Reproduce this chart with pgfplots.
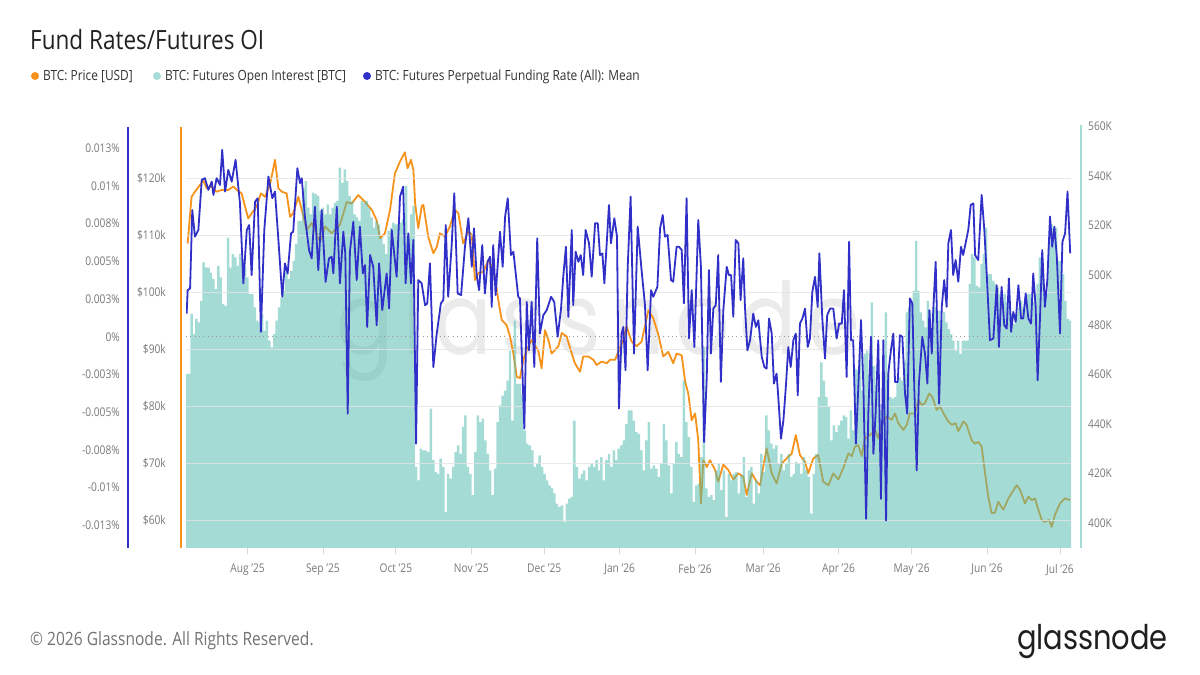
\documentclass[border=0pt]{standalone}
\usepackage{fontspec}
\setmainfont[FakeStretch=0.85]{Open Sans}
\newfontfamily\logofont[FakeStretch=0.85]{Poppins}
\newfontfamily\markfont[FakeStretch=0.85, LetterSpace=10]{Poppins}
\usepackage{pgfplots}
\usepackage{pgfplotstable}
\pgfplotsset{compat=1.18}

\definecolor{btcorange}{HTML}{F7931A}
\definecolor{oiteal}{HTML}{4BBBAD}
\definecolor{frblue}{HTML}{3030C8}
\definecolor{ticktext}{HTML}{7A7A7A}
\definecolor{titletext}{HTML}{222222}
\definecolor{legendtext}{HTML}{333333}
\definecolor{gridline}{HTML}{E4E4E4}

% x = days since 1 Aug 2025
\pgfplotstableread{
day price
-24.6 108500
-23.0 116700
-21.6 117600
-19.5 118800
-18.2 119600
-16.8 118200
-14.7 118500
-12.7 117600
-10.6 117900
-7.9 117900
-5.8 118500
-4.4 117900
-2.4 117300
-1.0 115000
0.3 112900
1.7 113800
3.8 115000
5.5 117300
7.2 116700
9.2 118800
10.2 120800
11.3 123200
12.7 118200
14.1 117600
16.1 117300
17.5 113200
18.8 113800
20.9 116700
22.3 114400
24.3 110900
26.4 112100
28.4 110300
29.8 108800
31.9 111500
34.6 110300
38.0 111800
40.8 115800
42.8 115500
45.5 117000
48.3 115800
51.1 114400
53.1 112600
54.5 109400
56.5 110300
58.6 114400
60.6 120800
62.7 122900
64.7 124500
65.8 121700
67.2 123200
68.2 121400
68.9 115600
70.2 111200
71.6 115000
72.3 115300
74.3 109700
76.4 106800
77.8 107900
79.1 110300
81.2 109700
83.2 111500
85.3 114400
86.7 113800
88.7 108500
90.8 110600
92.2 110000
93.5 102100
94.9 103300
96.9 103500
99.0 105600
100.4 104500
101.7 102700
103.1 98600
104.5 95100
106.5 94200
107.9 92200
109.3 89200
110.7 85100
112.0 84900
113.4 88100
114.8 89800
116.8 91600
118.2 90500
119.5 89800
120.9 86600
122.3 93300
123.7 91600
125.0 89200
126.4 89800
127.8 90500
129.2 92800
131.2 92200
133.3 89200
134.6 87500
136.7 86000
138.0 88700
140.1 88700
142.2 88100
143.5 87200
145.6 87800
147.7 87500
149.0 88100
151.1 88100
152.4 89500
154.5 91600
155.8 94000
157.9 91300
160.0 90500
162.0 91300
163.4 94000
164.8 96800
166.8 95400
168.9 92500
170.9 88700
173.0 89500
175.0 87500
176.4 89200
178.5 88900
179.9 84300
181.2 82200
182.6 77500
184.0 78700
185.3 74000
186.4 62900
187.4 70500
188.8 69300
190.1 70500
192.2 68800
193.5 66700
195.6 69700
197.6 68800
199.7 67100
201.8 68200
203.8 67600
205.2 64400
207.3 68200
209.3 66700
210.7 66100
212.0 69300
213.4 72600
215.5 68200
217.5 66400
219.6 69900
222.3 71100
223.7 71600
225.4 74900
227.1 71400
229.2 70200
230.5 68200
232.6 70800
234.6 71400
236.7 66700
238.8 66100
240.8 68200
242.9 67100
244.9 69100
247.0 71700
248.4 71200
249.7 72900
251.1 73100
252.5 71200
253.8 74300
255.9 74900
258.0 75800
259.3 74300
260.7 77000
262.8 78100
264.8 77600
266.2 78700
267.5 77000
269.6 75800
271.0 76700
272.3 78700
274.4 78700
275.8 81100
277.1 80200
278.5 80500
280.2 82200
281.5 81600
283.3 79300
284.7 79900
286.1 78700
288.1 77300
289.5 76700
291.1 77000
292.2 75600
294.3 77300
295.6 76700
297.7 74000
299.1 73400
300.4 73700
301.8 72900
303.2 68200
304.5 64100
305.9 61200
307.3 61300
308.6 63200
310.7 61800
312.8 63800
314.1 64700
316.2 66100
317.6 65300
319.6 62900
321.0 64100
322.4 63500
323.7 63800
325.1 61800
326.5 60000
327.8 59700
329.5 60000
330.6 58800
331.9 60900
334.0 62900
336.1 63800
338.2 63500
}\pricedata

\pgfplotstableread{
day oi
-25.28 460200
-24 460200
-23 484400
-22 476300
-21 482400
-20 481000
-19 489700
-18 505200
-17 503200
-16 503100
-15 501100
-14 498500
-13 494400
-12 503800
-11 499100
-10 488400
-9 487700
-8 515200
-7 503100
-6 508500
-5 507200
-4 503800
-3 508500
-2 505800
-1 503100
0 499100
1 492400
2 492400
3 487000
4 481700
5 481000
6 484400
7 477700
8 481700
9 473600
10 470900
11 476300
12 481700
13 487000
14 491100
15 493800
16 503100
17 498500
18 501800
19 505800
20 512600
21 521900
22 521900
23 535300
24 538000
25 527300
26 524600
27 533300
28 532700
29 532000
30 526000
31 527300
32 524600
33 528600
34 524600
35 527300
36 529300
37 530000
38 543400
39 537300
40 542700
41 538000
42 532000
43 530000
44 524600
45 523300
46 521900
47 530000
48 529300
49 530000
50 527300
51 523300
52 519200
53 521900
54 520500
55 515200
56 512600
57 508500
58 517900
59 519200
60 521200
61 520500
62 520500
63 521200
64 522600
65.2 536000
66.2 516600
67.2 524600
68.3 528000
69.3 422700
70.3 417300
71.3 430100
72.3 429400
73.3 429400
74.4 428700
75.4 446200
76.4 425400
77.4 420600
78.4 419900
79.4 426000
80.5 422700
81.5 404500
82.5 419900
83.5 418000
84.5 422700
85.5 428700
86.6 431400
87.6 428000
88.6 438800
89.6 443500
90.6 422700
91.6 419900
92.7 411300
93.7 428700
94.7 443500
95.7 440800
96.7 442200
97.7 433400
98.8 428000
99.8 421300
100.8 411300
101.8 422000
102.8 440800
103.8 447500
104.9 451500
105.9 453500
106.9 457500
107.9 469600
108.9 441400
109.9 481700
111.0 456200
112.0 456200
113.0 452200
114.0 437400
115.0 432100
116.0 431400
117.1 429400
118.1 422700
119.1 424000
120.1 427400
121.1 422700
122.1 419900
123.2 417300
124.2 415300
125.2 414000
126.2 412000
127.2 407900
128.2 406600
129.3 407200
130.3 400500
131.3 407900
132.3 409900
133.3 410600
134.3 441400
135.4 422700
136.4 418000
137.4 419900
138.4 421300
139.4 417300
140.4 422700
141.5 424000
142.5 422700
143.5 425400
144.5 421300
145.5 426700
146.5 417300
147.6 425400
148.6 428000
149.6 422700
150.6 429400
151.6 425400
152.6 430100
153.7 431400
154.7 433400
155.7 440100
156.8 445500
157.8 445500
158.8 441400
159.9 436700
160.9 436000
161.9 429400
163.0 421300
164.0 433400
165.0 440800
166.0 422000
167.1 423300
168.1 422000
169.1 418700
170.1 424000
171.2 440100
172.2 433400
173.2 423300
174.2 412000
175.3 424000
176.3 432800
177.3 428000
178.4 426700
179.4 457500
180.4 440800
181.4 434700
182.5 422700
183.5 408600
184.5 415300
185.5 416000
186.6 426700
187.6 470900
188.6 414000
189.7 410600
190.7 411300
191.7 409300
192.7 421300
193.8 424000
194.8 413300
195.8 421300
196.9 402500
197.9 419900
198.9 417300
199.9 419900
201.0 420600
202.0 412000
203.0 419300
204.0 426700
205.1 410600
206.1 421300
207.1 422700
208.2 407900
209.2 417300
210.2 412000
211.2 428000
212.3 420600
213.3 443500
214.3 437400
215.4 432100
216.4 430100
217.4 431400
218.4 424000
219.5 428000
220.5 421300
221.5 424000
222.5 428000
223.6 418700
224.6 419900
225.6 424700
226.7 424000
227.7 419900
228.7 426700
229.7 421300
230.8 418700
231.8 403900
232.8 419900
233.8 428000
234.9 450800
235.9 464900
236.9 457500
238.0 450800
239.0 446800
240.0 433400
241.0 439500
242.1 436700
243.1 439500
244.1 441400
245.2 443500
246.1 442800
247.1 434100
248.0 445500
249.0 437400
249.9 462200
250.9 461600
251.9 468300
252.8 453500
253.8 468300
254.7 469600
255.7 460200
256.6 489100
257.6 463500
258.6 455500
259.5 452200
260.5 445500
261.4 460200
262.4 485000
263.4 460200
264.3 450800
265.3 450200
266.2 450800
267.2 457500
268.2 458800
269.1 457500
270.1 465600
271.0 485000
272.0 487000
272.9 489700
273.9 493800
274.9 513900
275.8 493800
276.8 485000
277.7 481700
278.7 479000
279.7 489700
280.6 485700
281.6 477700
282.5 487000
283.5 481700
284.5 485700
285.4 481700
286.4 485000
287.3 481000
288.3 478300
289.3 476300
290.2 473600
291.2 469600
292.1 473600
293.1 468300
294.0 473600
295.0 473600
296.0 473600
296.9 496500
297.9 508500
298.8 507200
299.8 495800
300.8 495100
301.7 504500
302.7 508500
303.6 519200
304.6 500500
305.6 500500
306.5 497800
307.5 496500
308.4 495100
309.4 492400
310.4 489100
311.3 492400
312.3 489100
313.2 487000
314.2 484400
315.2 480400
316.1 484400
317.1 487000
318.0 489700
319.0 487000
319.9 491100
320.9 492400
321.9 492400
322.8 489100
323.8 492400
324.7 496500
325.7 507200
326.7 507200
327.6 491100
328.6 492400
329.5 512600
330.5 520600
331.5 519200
332.4 519200
333.4 505800
334.3 505800
335.3 500500
336.3 489700
337.2 482400
338.2 481700
338.53 481700
}\oidata

\pgfplotstableread{
day rate
-25.0 0.00154
-24.6 0.00309
-23.6 0.00320
-22.7 0.00841
-21.6 0.00664
-20.2 0.00708
-18.8 0.01041
-17.5 0.01052
-16.1 0.00974
-14.7 0.01029
-14.0 0.00941
-12.7 0.01052
-11.3 0.01007
-10.4 0.01240
-9.2 0.00963
-7.9 0.01107
-6.5 0.01029
-4.9 0.01174
-3.1 0.00886
-1.7 0.00354
-0.3 0.00708
0.7 0.00741
1.7 0.00409
3.1 0.00896
4.2 0.00919
5.5 0.00032
6.9 0.00708
8.6 0.01063
10.2 0.00919
11.3 0.00963
12.7 0.00642
14.3 0.00265
15.4 0.00487
16.5 0.00420
17.9 0.00686
18.8 0.00697
20.5 0.01118
21.6 0.01019
22.3 0.01052
23.6 0.00797
25.3 0.00575
26.4 0.00520
27.7 0.00863
29.1 0.00442
30.5 0.00841
32.1 0.00364
33.5 0.00520
34.6 0.00531
35.3 0.00420
36.7 0.00863
38.0 0.00354
39.4 0.00697
40.2 0.00553
41.2 -0.00511
42.1 0.00564
43.5 0.00763
44.9 0.00376
46.2 0.00730
47.4 0.00420
48.3 0.00475
49.2 0.00065
50.4 0.00542
51.7 0.00464
53.1 0.00076
54.1 0.00487
55.4 0.00176
57.2 0.00420
58.2 0.00187
59.3 0.00708
61.3 0.00398
62.7 0.00930
64.0 0.00996
65.0 0.00354
66.1 0.00686
67.2 0.00354
68.2 0.00642
69.3 -0.00710
70.2 0.00376
71.6 0.00354
73.0 0.00209
73.9 0.00220
75.0 0.00487
76.4 -0.00201
77.8 0.00021
79.5 0.00221
80.5 0.00243
81.5 0.00741
82.5 0.00265
83.9 0.00597
85.0 0.00952
86.4 0.00287
87.8 0.00276
89.4 0.00597
90.8 0.00786
92.2 0.00464
93.1 0.00719
94.2 0.00409
95.2 0.00309
96.5 0.00608
97.6 0.00287
98.7 0.00497
99.7 0.00531
100.4 0.00198
101.0 0.00608
102.0 0.00276
103.8 0.00697
104.9 0.00464
105.9 0.00797
107.0 0.00919
108.3 0.00542
109.3 0.00564
111.3 0.00265
112.0 0.00254
113.8 -0.00610
114.8 0.00231
115.7 -0.00090
116.8 0.00231
117.9 -0.00201
119.1 0.00653
120.2 0.00021
121.6 0.00143
123.0 0.00176
124.8 0.00265
126.1 0.00231
127.5 0.00000
128.9 0.00187
129.8 0.00398
130.9 0.00597
131.9 0.00132
133.3 0.00708
133.9 0.00209
134.9 0.00564
136.0 0.00497
137.0 0.00542
138.0 0.00409
139.0 0.00708
140.4 0.00620
141.5 0.00398
142.9 0.00753
144.0 0.00753
144.9 0.00542
145.9 0.00553
146.7 0.00354
148.6 0.00874
149.4 0.00620
150.8 0.00786
151.9 0.00664
152.7 -0.00477
153.8 0.00021
154.5 0.00065
155.4 -0.00223
156.3 0.00464
157.5 0.00930
158.9 -0.00112
160.4 0.00730
162.0 0.00442
163.4 0.00209
164.5 -0.00223
165.9 0.00309
166.8 0.00265
168.5 0.00331
169.6 0.00719
170.7 0.00808
171.6 0.00664
172.7 0.00675
174.1 0.00376
175.0 0.00365
176.4 0.00597
177.4 0.00597
178.5 0.00575
179.4 0.00221
180.5 0.00919
181.5 -0.00012
182.6 0.00309
183.7 -0.00068
185.3 0.00775
186.4 0.00464
187.7 -0.00699
188.8 -0.00267
189.7 0.00442
190.5 -0.00112
191.5 0.00187
192.5 0.00209
193.5 0.00542
194.6 -0.00300
195.6 0.00176
197.0 0.00464
197.9 0.00409
198.8 0.00409
199.7 0.00132
200.7 0.00642
201.8 0.00620
202.7 0.00243
203.8 0.00520
204.5 0.00198
205.5 -0.00090
206.6 -0.00023
207.9 0.00154
209.0 0.00065
210.0 0.00109
211.4 -0.00134
212.5 -0.00201
213.4 -0.00212
214.4 0.00120
215.5 0.00021
216.4 -0.00311
217.5 -0.00245
218.2 -0.00400
219.3 -0.00677
220.3 -0.00555
221.4 -0.00311
222.3 -0.00068
223.3 -0.00201
224.4 -0.00023
225.4 0.00021
226.2 -0.00389
227.1 0.00087
228.1 0.00120
229.2 0.00187
230.3 -0.00068
231.2 -0.00012
232.2 0.00298
233.3 0.00398
234.4 0.00198
235.1 0.00553
236.3 0.00120
237.4 -0.00145
238.3 0.00143
239.5 0.00187
240.8 0.00187
242.2 -0.00012
243.2 0.00087
244.3 0.00087
245.2 0.00309
246.3 -0.00267
247.3 0.00630
248.1 -0.00023
249.0 -0.00023
250.1 -0.00710
251.1 -0.00334
252.2 0.00110
253.2 -0.00334
254.3 -0.01209
255.2 -0.00511
256.3 0.00000
257.3 -0.00777
258.2 -0.00511
259.3 -0.00023
260.4 -0.01076
261.4 -0.00023
262.5 -0.01220
263.4 -0.00245
264.5 -0.00090
265.5 0.00021
266.2 -0.00300
267.3 -0.00300
268.2 0.00010
269.2 0.00000
270.3 -0.00378
271.2 -0.00511
272.3 0.00254
273.3 0.00220
274.1 -0.00334
275.1 -0.00888
276.0 -0.00311
277.4 0.00000
278.5 -0.00112
279.5 -0.00311
280.3 0.00176
281.3 -0.00112
281.9 0.00176
282.9 0.00497
284.3 -0.00444
285.4 0.00198
286.4 0.00376
287.4 0.00198
288.1 0.00620
289.2 0.00708
290.1 0.00409
291.1 0.00509
292.2 0.00365
293.3 0.00597
294.2 0.00542
295.2 0.00620
296.3 0.00708
297.3 0.00874
298.4 0.00885
299.1 0.00542
300.4 0.00509
301.8 0.00941
302.9 0.00708
303.9 0.00409
305.2 -0.00023
306.6 -0.00012
308.0 0.00342
308.9 -0.00068
310.0 0.00331
311.1 0.00076
312.1 0.00054
313.0 0.00387
313.9 0.00032
314.8 0.00165
315.8 0.00098
316.9 0.00342
318.0 0.00121
318.9 0.00121
319.9 0.00287
321.0 0.00121
322.1 0.00087
323.0 0.00420
324.0 0.00198
324.8 -0.00289
325.8 0.00132
326.7 0.00575
327.8 0.00198
328.8 0.00376
329.9 0.00797
330.8 0.00597
331.7 0.00730
332.7 0.00531
334.0 0.00021
335.0 0.00630
336.1 0.00686
337.1 0.00963
338.2 0.00553
}\ratedata

\pgfplotsset{
  panel/.style={
    at={(186pt,127pt)}, anchor=south west,
    scale only axis, width=885pt, height=423pt,
    xmin=-25.28, xmax=338.53,
    axis line style={draw=none},
    tick style={draw=none},
    xtick=\empty, ytick=\empty,
    scaled x ticks=false, scaled y ticks=false,
    ticklabel style={font=\fontsize{12}{14}\selectfont, text=ticktext},
  },
}

\begin{document}
\begin{tikzpicture}[x=1pt, y=1pt]
\useasboundingbox (0,0) rectangle (1200,675);
\fill[white] (0,0) rectangle (1200,675);

% title and legend
\node[anchor=base west, inner sep=0pt, font=\fontsize{26.5}{31}\selectfont, text=titletext] at (30,625) {Fund Rates/Futures OI};
\fill[btcorange] (35,599) circle (4);
\node[anchor=base west, inner sep=0pt, font=\fontsize{14}{17}\selectfont, text=legendtext] at (43,594) {BTC: Price [USD]};
\fill[oiteal!50] (157,599) circle (4);
\node[anchor=base west, inner sep=0pt, font=\fontsize{14}{17}\selectfont, text=legendtext] at (165,594) {BTC: Futures Open Interest [BTC]};
\fill[frblue] (367,599) circle (4);
\node[anchor=base west, inner sep=0pt, font=\fontsize{14}{17}\selectfont, text=legendtext] at (375,594) {BTC: Futures Perpetual Funding Rate (All): Mean};

% background watermark
\node[anchor=base, inner sep=0pt, font=\markfont\fontsize{100}{100}\selectfont, text=black!8] at (598,320) {glassnode};

% price line (beneath the open interest bars)
\begin{axis}[panel, ymin=55090, ymax=129300]
\addplot[btcorange, line width=1.8pt, line join=round] table[x=day, y=price] {\pricedata};
\end{axis}

% open interest bars, right axis
\begin{axis}[panel, ymin=390000, ymax=560600,
  ytick={400000,420000,440000,460000,480000,500000,520000,540000,560000},
  yticklabels={400K,420K,440K,460K,480K,500K,520K,540K,560K},
  yticklabel pos=right,
  yticklabel style={anchor=west, inner sep=0pt, xshift=17pt}]
\addplot[draw=none, fill=oiteal, fill opacity=0.5, const plot mark mid] table[x=day, y=oi] {\oidata} \closedcycle;
\end{axis}

% grid, price labels and month ticks
\begin{axis}[panel, ymin=55090, ymax=129300,
  ytick={60000,70000,80000,90000,100000,110000,120000},
  yticklabels={\$60k,\$70k,\$80k,\$90k,\$100k,\$110k,\$120k},
  ymajorgrids, grid style={gridline, opacity=0.8, line width=0.8pt},
  yticklabel style={anchor=east, inner sep=0pt, xshift=-14pt},
  xtick={0,31,61,92,122,153,184,212,243,273,304,334},
  xticklabels={Aug '25,Sep '25,Oct '25,Nov '25,Dec '25,Jan '26,Feb '26,Mar '26,Apr '26,May '26,Jun '26,Jul '26},
  xtick style={draw=black!15, line width=0.8pt},
  xtick pos=left, tick align=outside, major tick length=6pt,
  xticklabel style={anchor=north, inner sep=0pt, yshift=-10pt}]
\draw[black!12, line width=0.8pt] (rel axis cs:0,0) -- (rel axis cs:1,0);
\end{axis}

% funding rate, left axis
\begin{axis}[panel, ymin=-0.01402, ymax=0.01405,
  ytick={-0.0125,-0.01,-0.0075,-0.005,-0.0025,0,0.0025,0.005,0.0075,0.01,0.0125},
  yticklabels={-0.013\%,-0.01\%,-0.008\%,-0.005\%,-0.003\%,0\%,0.003\%,0.005\%,0.008\%,0.01\%,0.013\%},
  yticklabel style={anchor=east, inner sep=0pt, xshift=-66pt}]
\draw[black!40, line width=0.9pt, dash pattern=on 1pt off 3.3pt] (axis cs:-25.28,0) -- (axis cs:338.53,0);
\addplot[frblue, line width=1.8pt, line join=round] table[x=day, y=rate] {\ratedata};
\end{axis}

% coloured axis rules
\draw[frblue, line width=2pt] (128,127) -- (128,548);
\draw[btcorange, line width=2pt] (181,127) -- (181,548);
\draw[oiteal!50, line width=2.5pt] (1081,127) -- (1081,550);

% footer
\node[anchor=base west, inner sep=0pt, font=\fontsize{18.3}{22}\selectfont, text=black!55] at (30,30) {© 2026 Glassnode. All Rights Reserved.};
\node[anchor=base east, inner sep=0pt, font=\logofont\fontsize{34}{34}\selectfont, text=black!88] at (1168,25) {glassnode};
\end{tikzpicture}
\end{document}
